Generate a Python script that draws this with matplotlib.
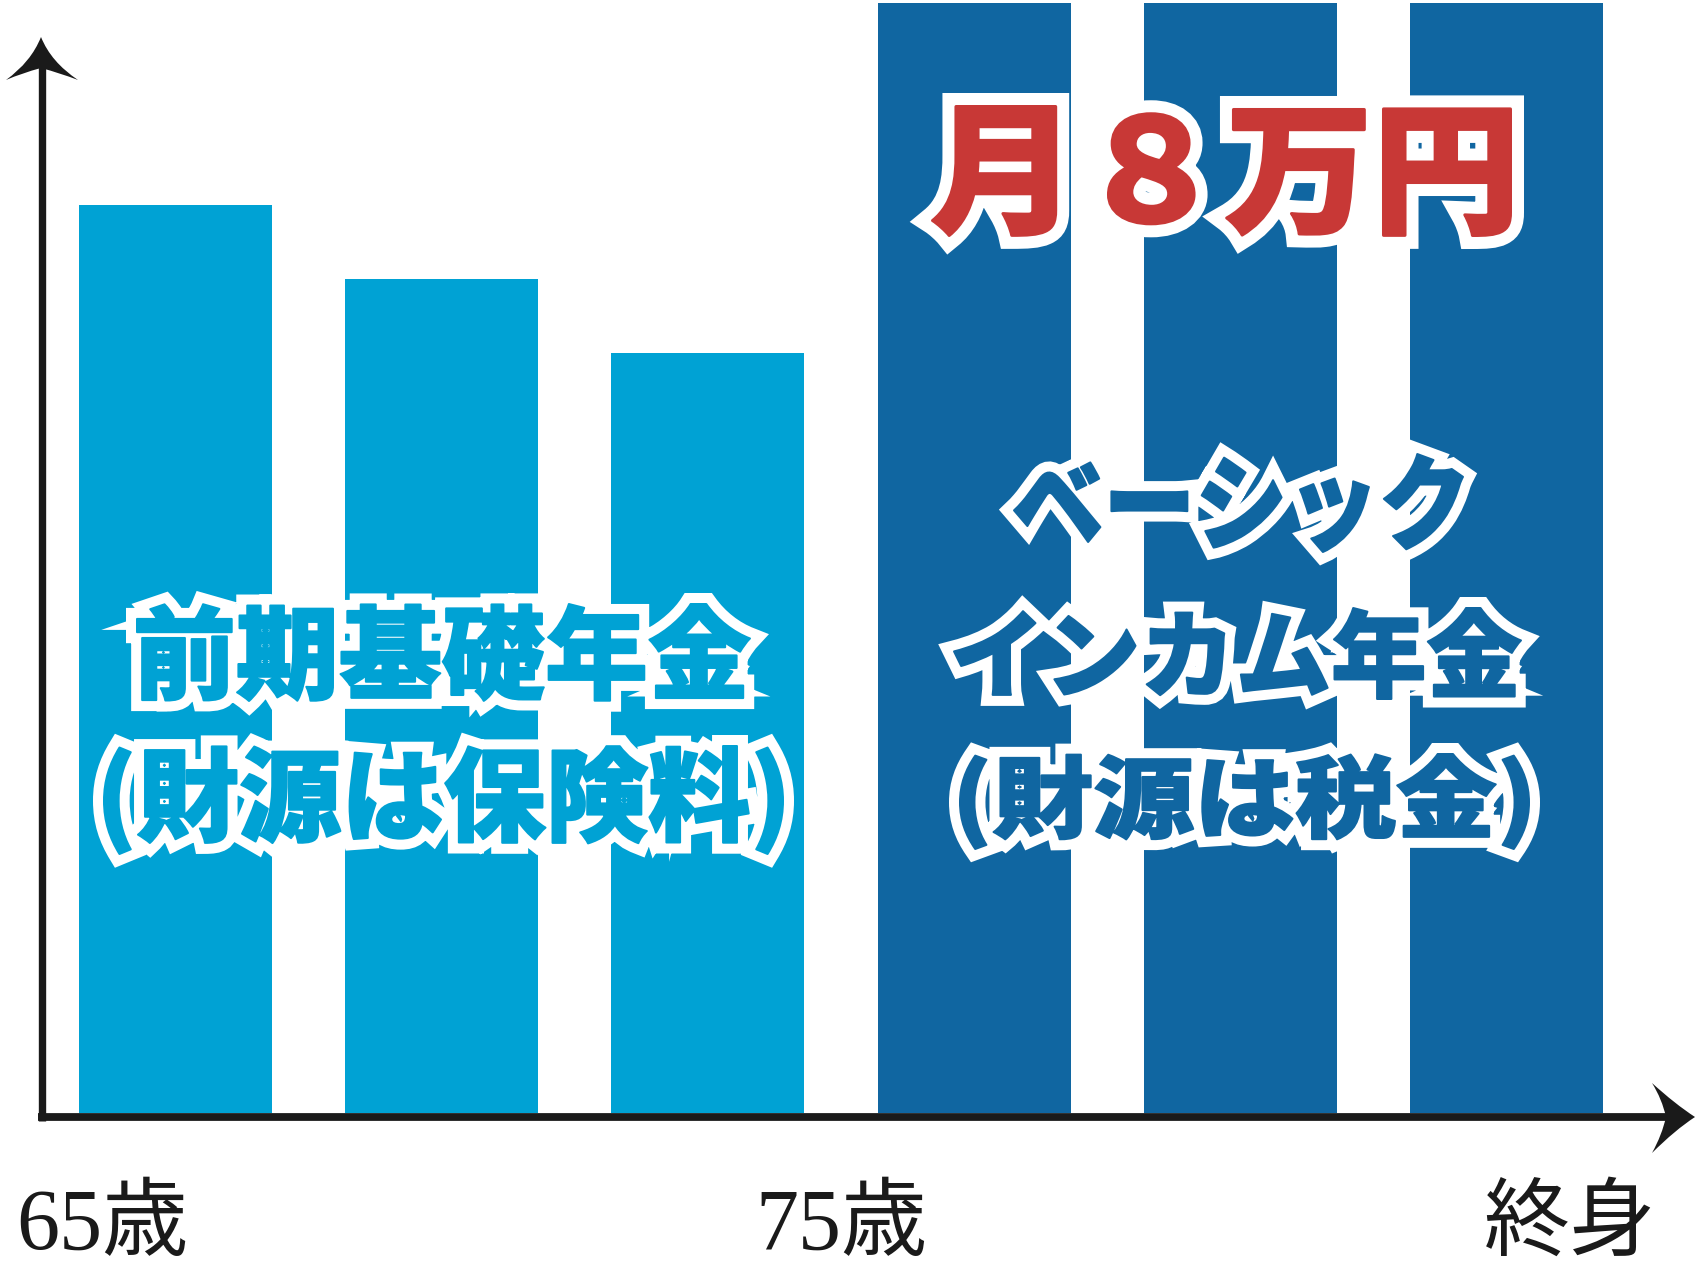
import matplotlib
matplotlib.use("Agg")
import matplotlib.pyplot as plt
from matplotlib.font_manager import FontProperties
from matplotlib.textpath import TextPath
from matplotlib.patches import PathPatch
from matplotlib.path import Path
from matplotlib.transforms import Affine2D

W, H, DPI = 1698, 1266, 100

# bar data (heights as % of the tallest bar)
periods = ["65-67", "67-70", "70-75", "75-80", "80-85", "85-"]
heights = [81.8, 75.1, 68.5, 100, 100, 100]
light_blue = "#00a2d4"
dark_blue = "#1066a1"
bar_colors = [light_blue] * 3 + [dark_blue] * 3

age_labels = ["65歳", "75歳", "終身"]
title_left = ["前期基礎年金", "(財源は保険料)"]
title_right = ["ベーシック", "インカム年金", "(財源は税金)"]
amount = "月８万円"

fig = plt.figure(figsize=(W / DPI, H / DPI), dpi=DPI)

# bar axes: left edge on the y-axis line, bottom on the x-axis line
ax = fig.add_axes([42 / W, (H - 1113) / H, (W - 42) / W, 1110 / H], zorder=1)
xs = list(range(len(heights)))
ax.bar(xs, heights, width=0.725, color=bar_colors, linewidth=0)
ax.set_xlim(-0.5015, 5.719)
ax.set_ylim(0, 100)
ax.set_axis_off()

# overlay in pixel coordinates for axes lines, arrows and texts
ov = fig.add_axes([0, 0, 1, 1], zorder=2)
ov.set_xlim(0, W)
ov.set_ylim(H, 0)
ov.set_axis_off()
ov.patch.set_visible(False)

ink = "#1a1a1a"
ov.plot([42, 42], [66, 1121], color=ink, lw=5.3, solid_capstyle="butt")
ov.plot([38, 1668], [1117, 1117], color=ink, lw=5.6, solid_capstyle="butt")

C = Path.CURVE3
codes = [Path.MOVETO, C, C, C, C, C, C, C, C]
up = Path([(41, 37), (31, 62), (6, 80), (22, 73), (41, 68), (60, 73), (78, 80), (51, 62), (41, 37)], codes)
right = Path([(1695, 1117), (1675, 1104), (1652, 1083), (1662, 1099), (1666, 1117),
              (1662, 1135), (1652, 1153), (1675, 1130), (1695, 1117)], codes)
ov.add_patch(PathPatch(up, fc=ink, ec="none"))
ov.add_patch(PathPatch(right, fc=ink, ec="none"))

# age labels under the axis
lab_fam = ["Liberation Serif", "Noto Sans CJK JP"]
for s, x in zip(age_labels, [16, 755, 1484]):
    ov.text(x, 1249, s, family=lab_fam, fontsize=62, color=ink, ha="left", va="baseline")

FP = FontProperties(family="Noto Sans CJK JP", weight="black")


def fit_text(s, box, color, edge_px, z=5, fat_px=2):
    x0, x1, y0, y1 = box
    tp = TextPath((0, 0), s, size=100, prop=FP)
    bb = tp.get_extents()
    tr = (Affine2D().translate(-bb.x0, -bb.y1)
          .scale((x1 - x0 - fat_px) / bb.width, -(y1 - y0 - fat_px) / bb.height)
          .translate(x0 + fat_px / 2, y0 + fat_px / 2))
    p = tr.transform_path(tp)
    k = 72 / DPI
    ov.add_patch(PathPatch(p, fc="white", ec="white", lw=(2 * edge_px + fat_px) * k,
                           joinstyle="miter", zorder=z))
    ov.add_patch(PathPatch(p, fc=color, ec=color, lw=fat_px * k, joinstyle="round", zorder=z + 0.1))


fit_text(title_left[0], (136, 751, 603, 702), light_blue, 10)
fit_text(title_left[1], (103, 784, 745, 855), light_blue, 10)
fit_text(title_right[0], (1013, 1464, 453, 553), dark_blue, 10)
fit_text(title_right[1], (953, 1522, 607, 700), dark_blue, 10)
fit_text(title_right[2], (959, 1530, 753, 850), dark_blue, 10)
fit_text(amount, (931, 1512, 105, 237), "#c83836", 12, fat_px=3)

fig.savefig("out.png", dpi=DPI)
